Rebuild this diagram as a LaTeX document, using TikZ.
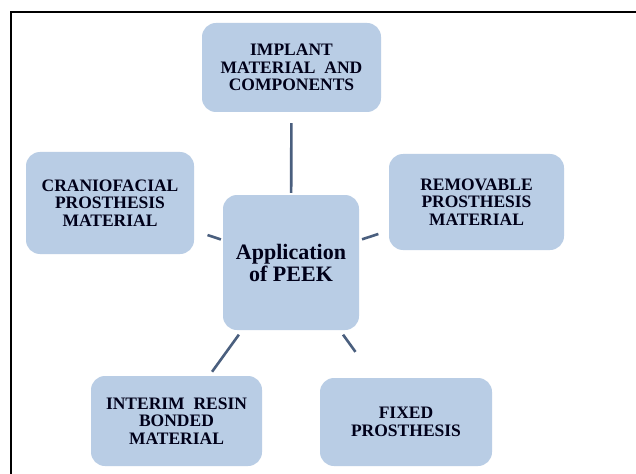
\documentclass[tikz,border=0pt]{standalone}
\usepackage{fontspec}
\setmainfont{Liberation Serif}
\definecolor{boxfill}{HTML}{B9CDE5}
\definecolor{linkcol}{HTML}{4A5F7E}
\begin{document}
\begin{tikzpicture}[x=1pt,y=-1pt,
  topic/.style={draw=none, fill=boxfill, rounded corners=14pt, inner sep=0pt,
    align=center, font=\fontsize{17.5}{17.5}\selectfont\bfseries, text=black!90!blue},
  hub/.style={topic, font=\fontsize{22}{22}\selectfont\bfseries},
  link/.style={draw=linkcol, line width=2.6pt}]
\useasboundingbox (0,0) rectangle (636,473);
\fill[white] (0,0) rectangle (636,473);
\draw[line width=2pt] (11,475) -- (11,12) -- (638,12);

\node[topic, minimum width=179pt, minimum height=89pt] (implant) at (291.5,67.5) {IMPLANT\\MATERIAL~~AND\\COMPONENTS};
\node[topic, minimum width=168pt, minimum height=102pt] (cranio) at (110,203) {CRANIOFACIAL\\PROSTHESIS\\MATERIAL};
\node[topic, minimum width=175pt, minimum height=96pt] (remov) at (476.5,202) {REMOVABLE\\PROSTHESIS\\MATERIAL};
\node[hub, minimum width=136pt, minimum height=135pt] (hubnode) at (291,262.5) {Application\\of PEEK};
\node[topic, minimum width=171pt, minimum height=90pt] (interim) at (176.5,421) {INTERIM~~RESIN\\BONDED\\MATERIAL};
\node[topic, minimum width=172pt, minimum height=88pt] (fixed) at (406,422) {FIXED\\PROSTHESIS};

\draw[link, shorten <=2pt, shorten >=11pt] (hubnode) -- (implant);
\draw[link, shorten <=2pt, shorten >=14pt] (hubnode) -- (cranio);
\draw[link, shorten <=3pt, shorten >=11pt] (hubnode) -- (remov);
\draw[link, shorten <=5.5pt, shorten >=5pt] (hubnode) -- (interim);
\draw[link, shorten <=5.5pt, shorten >=32pt] (hubnode) -- (fixed);
\end{tikzpicture}
\end{document}
